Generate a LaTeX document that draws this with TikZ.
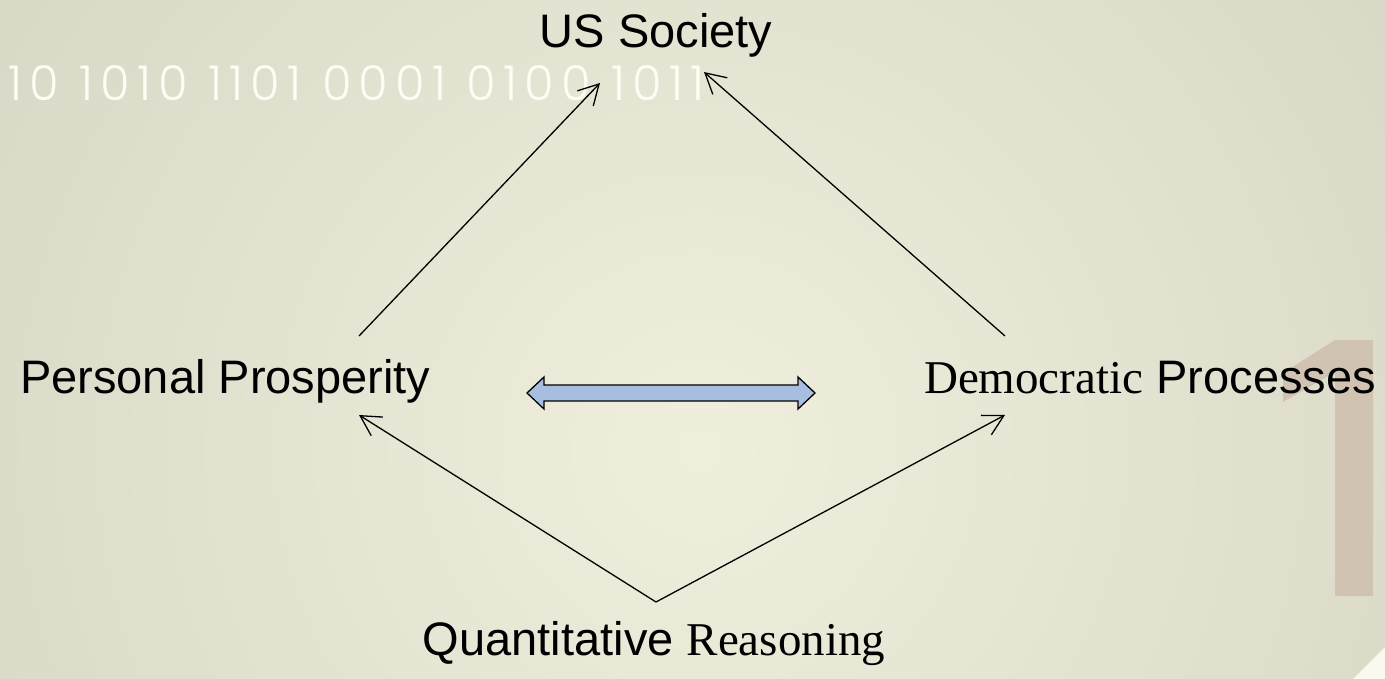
\documentclass[tikz,border=0pt]{standalone}
\usepackage{fontspec}
\setmainfont{Liberation Sans}
\newfontfamily\tnr{Liberation Serif}
\newfontfamily\binf{Poppins Light}[LetterSpace=15]
\usetikzlibrary{arrows.meta}
\definecolor{bgin}{RGB}{240,239,222}
\definecolor{bgout}{RGB}{206,204,186}
\definecolor{binc}{RGB}{254,253,244}
\definecolor{onec}{RGB}{208,195,177}
\definecolor{dablue}{RGB}{168,190,225}
\definecolor{curl}{RGB}{250,249,238}
\begin{document}
\begin{tikzpicture}[x=1pt,y=-1pt,
  lab/.style={inner sep=0pt, text=black, font=\fontsize{47}{56}\selectfont},
  conn/.style={line width=1.3pt, -{Straight Barb[length=20pt,width=22pt,line width=1.3pt]}},
  dbl/.style={draw=black, line width=1.3pt, fill=dablue, line join=miter}]
\useasboundingbox (0,0) rectangle (1385,679);
\begin{scope}
\clip (0,0) rectangle (1385,679);
\shade[inner color=bgin, outer color=bgout] (700,450) circle (1250);
\end{scope}
% big background "1"
\fill[onec] (1335,340) -- (1373,340) -- (1373,596) -- (1335,596) -- (1335,372) -- (1283,402) -- (1283,373) -- cycle;
% page corner
\fill[curl] (1385,647) -- (1385,679) -- (1353,679) -- cycle;
% binary text
\node[anchor=base west, inner sep=0pt, text=binc, font=\binf\fontsize{48}{52}\selectfont] (bin) at (8,101) {10 1010 1101 0001 0100 1011};
% labels
\node[lab, anchor=base] (us) at (656,48) {US Society};
\node[lab, anchor=base west] (pp) at (20,393) {Personal Prosperity};
\node[lab, anchor=base east] (dp) at (1376,393) {{\tnr Democratic} Processes};
\node[lab, anchor=base] (qr) at (654,655) {Quantitative {\tnr Reasoning}};
% connector ends
\coordinate (ppU) at (359,336);
\coordinate (ppD) at (359,415);
\coordinate (dpU) at (1005,336);
\coordinate (dpD) at (1005,415);
\coordinate (usL) at (600,83);
\coordinate (usR) at (704,72);
\coordinate (qrV) at (656,602);
\draw[conn] (ppU) -- (usL);
\draw[conn] (dpU) -- (usR);
\draw[conn] (qrV) -- (ppD);
\draw[conn] (qrV) -- (dpD);
% double arrow
\draw[dbl] (527,393) -- (544,377) -- (544,385) -- (798,385) -- (798,377) -- (815,393)
  -- (798,409) -- (798,401) -- (544,401) -- (544,409) -- cycle;
\end{tikzpicture}
\end{document}
